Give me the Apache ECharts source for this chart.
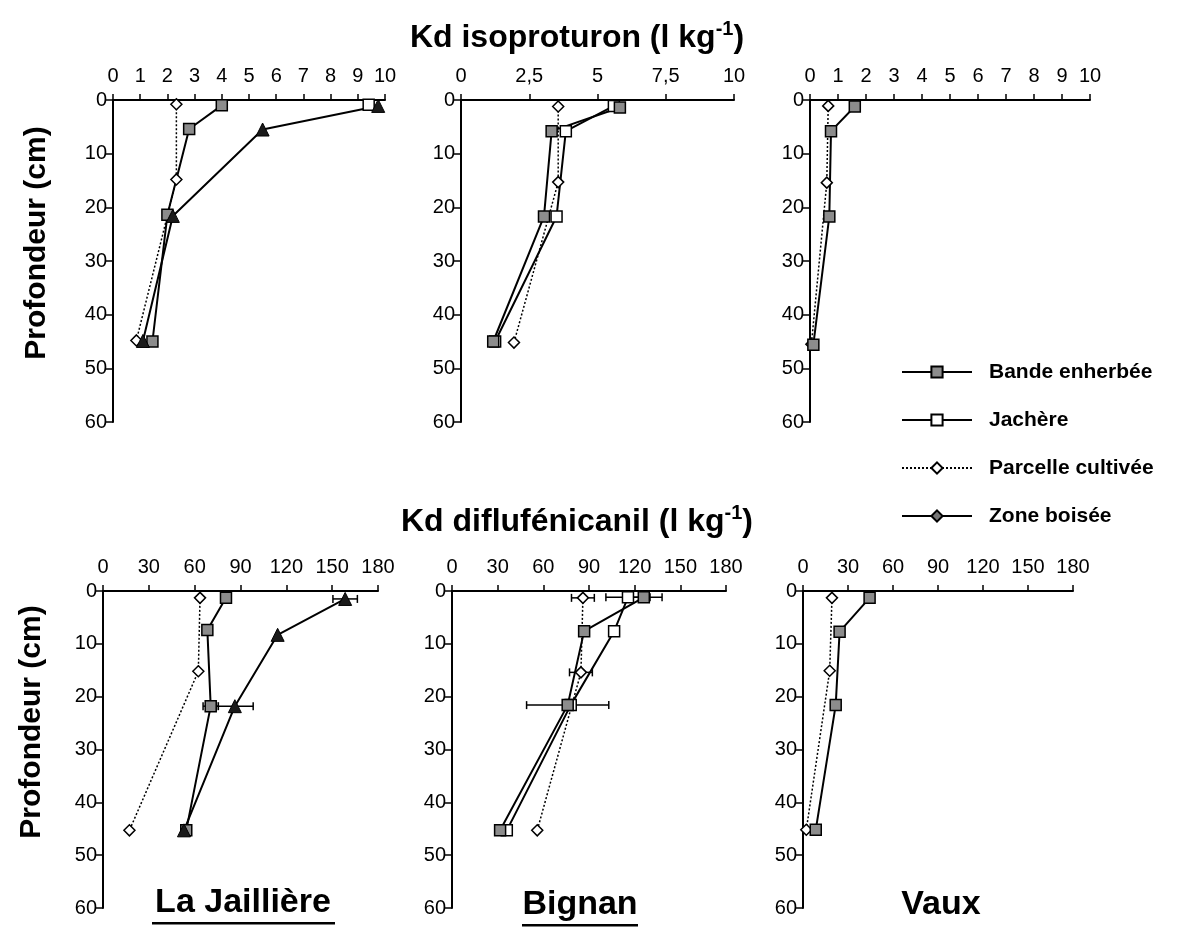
<!DOCTYPE html>
<html>
<head>
<meta charset="utf-8">
<script src="https://cdn.jsdelivr.net/npm/echarts@6/dist/echarts.min.js"></script>
<style>html,body{margin:0;padding:0;background:#fff}#c{width:1183px;height:932px}</style>
</head>
<body>
<div id="c"></div>
<script>
// ---------- DATA ----------
const depthTicks = [0, 10, 20, 30, 40, 50, 60];
const seriesNames = ['Bande enherbée', 'Jachère', 'Parcelle cultivée', 'Zone boisée'];
const siteNames = ['La Jaillière', 'Bignan', 'Vaux'];

// Kd isoproturon, [Kd, depth cm]
const isoJaillBande = [[4.0, 1], [2.8, 5.4], [2.0, 21.4], [1.45, 45]];
const isoJaillJachere = [[9.4, 0.9]];
const isoJaillParcelle = [[2.33, 0.8], [2.33, 14.8], [0.86, 44.8]];
const isoJaillZone = [[9.75, 1.1], [5.5, 5.5], [2.2, 21.6], [1.1, 44.9]];

const isoBignanBande = [[5.82, 1.4], [3.32, 5.8], [3.04, 21.7], [1.18, 45]];
const isoBignanJachere = [[5.6, 1.1], [3.84, 5.8], [3.5, 21.7], [1.25, 45]];
const isoBignanParcelle = [[3.56, 1.2], [3.56, 15.3], [1.94, 45.2]];

const isoVauxBande = [[1.6, 1.2], [0.75, 5.8], [0.69, 21.7], [0.12, 45.6]];
const isoVauxParcelle = [[0.65, 1.1], [0.6, 15.4], [0.05, 45.5]];

// Kd diflufénicanil, [Kd, depth cm]
const dfJaillBande = [[80.5, 1.3], [68.3, 7.4], [70.5, 21.8], [54.5, 45.3]];
const dfJaillParcelle = [[63.5, 1.3], [62.4, 15.2], [17.3, 45.3]];
const dfJaillZone = [[158.5, 1.5], [114.3, 8.3], [86.3, 21.8], [53, 45.3]];
const dfJaillErr = [[158.5, 1.5, 8], [86.3, 21.8, 12], [70.5, 21.8, 5]];

const dfBignanBande = [[126, 1.2], [86.8, 7.6], [76, 21.6], [31.6, 45.3]];
const dfBignanJachere = [[115.6, 1.2], [106.5, 7.6], [78, 21.6], [36, 45.3]];
const dfBignanParcelle = [[86, 1.3], [84.7, 15.4], [56, 45.3]];
const dfBignanErr = [[86, 1.3, 7.5], [115.6, 1.2, 14.5], [126, 1.2, 12], [84.7, 15.4, 7.5], [76, 21.6, 27]];

const dfVauxBande = [[44.4, 1.3], [24.4, 7.7], [21.8, 21.6], [8.5, 45.2]];
const dfVauxParcelle = [[19.3, 1.3], [17.8, 15.1], [2.2, 45.2]];

// ---------- STYLE ----------
const FONT = '"Liberation Sans", Arial, sans-serif';
const styles = {
  'Bande enherbée': {symbol: 'rect', symbolSize: 11, itemStyle: {color: '#8c8c8c', borderColor: '#000', borderWidth: 1.5}, lineStyle: {color: '#000', width: 2}},
  'Jachère': {symbol: 'rect', symbolSize: 11, itemStyle: {color: '#fff', borderColor: '#000', borderWidth: 1.5}, lineStyle: {color: '#000', width: 2}},
  'Parcelle cultivée': {symbol: 'diamond', symbolSize: 11, itemStyle: {color: '#fff', borderColor: '#000', borderWidth: 1.5}, lineStyle: {color: '#000', width: 1.5, type: [2, 2]}},
  'Zone boisée': {symbol: 'diamond', symbolSize: 14, itemStyle: {color: '#777', borderColor: '#000', borderWidth: 1.5}, lineStyle: {color: '#000', width: 2}}
};

const grids = [
  {left: 113, top: 100, width: 272, height: 322},
  {left: 461, top: 100, width: 273, height: 322},
  {left: 810, top: 100, width: 280, height: 322},
  {left: 103, top: 591, width: 275, height: 317},
  {left: 452, top: 591, width: 274, height: 317},
  {left: 803, top: 591, width: 270, height: 317}
];
const xRanges = [
  {max: 10, interval: 1}, {max: 10, interval: 2.5}, {max: 10, interval: 1},
  {max: 180, interval: 30}, {max: 180, interval: 30}, {max: 180, interval: 30}
];

const xAxes = xRanges.map((r, i) => ({
  type: 'value', gridIndex: i, position: 'top', min: 0, max: r.max, interval: r.interval,
  axisLine: {show: true, onZero: false, lineStyle: {color: '#000', width: 2}},
  axisTick: {show: true, length: 6, lineStyle: {color: '#000', width: 1.5}},
  splitLine: {show: false},
  axisLabel: {color: '#000', fontSize: 20, fontFamily: FONT, margin: 14,
    formatter: v => String(v).replace('.', ',')}
}));
const yAxes = grids.map((g, i) => ({
  type: 'value', gridIndex: i, inverse: true, min: depthTicks[0], max: depthTicks[depthTicks.length - 1], interval: 10,
  axisLine: {show: true, onZero: false, lineStyle: {color: '#000', width: 2}},
  axisTick: {show: true, length: 7, lineStyle: {color: '#000', width: 1.5}},
  splitLine: {show: false},
  axisLabel: {color: '#000', fontSize: 20, fontFamily: FONT, margin: 6}
}));

function lineSeries(name, data, axis, extra) {
  const s = styles[name];
  return Object.assign({
    type: 'line', name: name, data: data, xAxisIndex: axis, yAxisIndex: axis,
    symbol: s.symbol, symbolSize: s.symbolSize, showAllSymbol: true,
    itemStyle: s.itemStyle, lineStyle: s.lineStyle, z: 3, animation: false
  }, extra || {});
}
const triangle = {symbol: 'triangle', symbolSize: 13, itemStyle: {color: '#1a1a1a', borderColor: '#000', borderWidth: 1}};

function errSeries(data, axis) {
  return {
    type: 'custom', xAxisIndex: axis, yAxisIndex: axis, data: data, z: 2, animation: false,
    encode: {x: 0, y: 1}, silent: true,
    renderItem: function (params, api) {
      const x = api.value(0), y = api.value(1), e = api.value(2);
      const a = api.coord([x - e, y]), b = api.coord([x + e, y]);
      const h = 4;
      const st = {stroke: '#000', lineWidth: 1.5};
      return {type: 'group', children: [
        {type: 'line', shape: {x1: a[0], y1: a[1], x2: b[0], y2: b[1]}, style: st},
        {type: 'line', shape: {x1: a[0], y1: a[1] - h, x2: a[0], y2: a[1] + h}, style: st},
        {type: 'line', shape: {x1: b[0], y1: b[1] - h, x2: b[0], y2: b[1] + h}, style: st}
      ]};
    }
  };
}

// legend representative series (first series with each name)
const legendSeries = seriesNames.map(n => lineSeries(n, [], 0));

const series = legendSeries.concat([
  lineSeries('Parcelle cultivée', isoJaillParcelle, 0),
  lineSeries('Bande enherbée', isoJaillBande, 0),
  lineSeries('Jachère', isoJaillJachere, 0),
  lineSeries('Zone boisée', isoJaillZone, 0, triangle),

  lineSeries('Parcelle cultivée', isoBignanParcelle, 1),
  lineSeries('Jachère', isoBignanJachere, 1),
  lineSeries('Bande enherbée', isoBignanBande, 1),

  lineSeries('Parcelle cultivée', isoVauxParcelle, 2),
  lineSeries('Bande enherbée', isoVauxBande, 2),

  errSeries(dfJaillErr, 3),
  lineSeries('Parcelle cultivée', dfJaillParcelle, 3),
  lineSeries('Bande enherbée', dfJaillBande, 3),
  lineSeries('Zone boisée', dfJaillZone, 3, triangle),

  errSeries(dfBignanErr, 4),
  lineSeries('Parcelle cultivée', dfBignanParcelle, 4),
  lineSeries('Jachère', dfBignanJachere, 4),
  lineSeries('Bande enherbée', dfBignanBande, 4),

  lineSeries('Parcelle cultivée', dfVauxParcelle, 5),
  lineSeries('Bande enherbée', dfVauxBande, 5)
]);

const titleRich = {
  a: {fontSize: 32, fontWeight: 'bold', fontFamily: FONT, fill: '#000', lineHeight: 38},
  s: {fontSize: 20, fontWeight: 'bold', fontFamily: FONT, fill: '#000', lineHeight: 20, verticalAlign: 'top'}
};
function titleText(label, x, y) {
  return {type: 'text', x: x, y: y, style: {text: '{a|' + label + ' (l kg}{s|-1}{a|)}', rich: titleRich, align: 'center', verticalAlign: 'middle'}};
}
function yTitle(x, y) {
  return {type: 'text', x: x, y: y, rotation: Math.PI / 2,
    style: {text: 'Profondeur (cm)', font: 'bold 30px ' + FONT, fill: '#000', align: 'center', verticalAlign: 'middle'}};
}
function siteText(label, x, y) {
  return {type: 'text', x: x, y: y,
    style: {text: label, font: 'bold 34px ' + FONT, fill: '#000', align: 'center', verticalAlign: 'middle'}};
}

const graphics = [
  titleText('Kd isoproturon', 577, 38),
  titleText('Kd diflufénicanil', 577, 522),
  yTitle(37, 243),
  yTitle(32, 722),
  siteText(siteNames[0], 243, 903),
  siteText(siteNames[1], 580, 905),
  siteText(siteNames[2], 941, 905)
];
// underlines for the two underlined site names
graphics.push({type: 'rect', shape: {x: 152, y: 922, width: 183, height: 2.5}, style: {fill: '#000'}});
graphics.push({type: 'rect', shape: {x: 522, y: 924, width: 116, height: 2.5}, style: {fill: '#000'}});

const chart = echarts.init(document.getElementById('c'), null, {renderer: 'canvas'});
chart.setOption({
  backgroundColor: '#fff',
  animation: false,
  grid: grids,
  xAxis: xAxes,
  yAxis: yAxes,
  legend: {
    data: seriesNames, orient: 'vertical', left: 896, top: 355,
    itemWidth: 70, itemHeight: 14, itemGap: 24,
    textStyle: {fontSize: 21, fontWeight: 'bold', fontFamily: FONT, color: '#000', lineHeight: 24, padding: [0, 0, 0, 12]},
    selectedMode: false
  },
  series: series,
  graphic: graphics
});
</script>
</body>
</html>
